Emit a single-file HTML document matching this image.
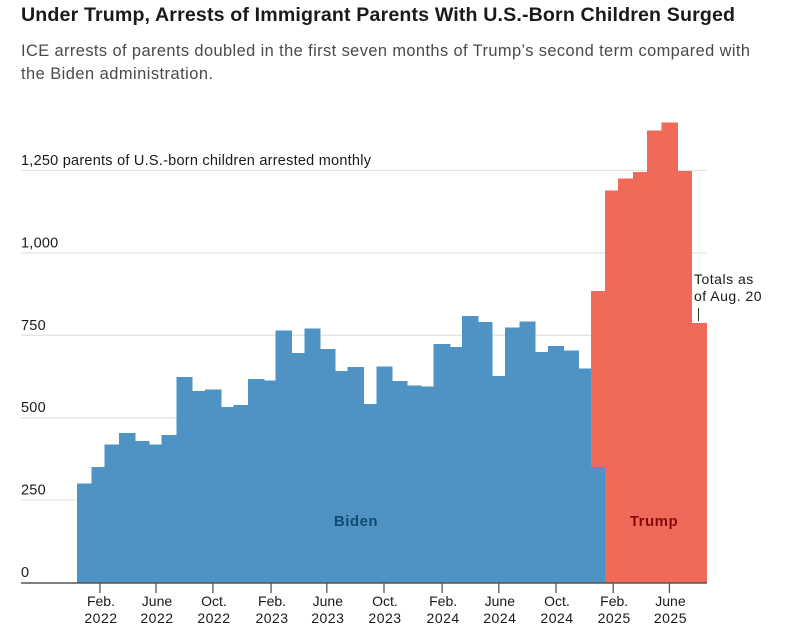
<!DOCTYPE html>
<html lang="en">
<head>
<meta charset="utf-8">
<title>Under Trump, Arrests of Immigrant Parents With U.S.-Born Children Surged</title>
<style>
html,body{margin:0;padding:0;background:#fff;width:795px;height:643px;overflow:hidden}
svg{display:block;font-family:"Liberation Sans",sans-serif}
</style>
</head>
<body>
<svg id="chart" width="795" height="643" viewBox="0 0 795 643" xmlns="http://www.w3.org/2000/svg">
  <rect width="795" height="643" fill="#fff"/>
  <text x="21" y="21" font-size="19.6" font-weight="700" fill="#1a1a1a" textLength="714" lengthAdjust="spacing">Under Trump, Arrests of Immigrant Parents With U.S.-Born Children Surged</text>
  <text x="21" y="56" font-size="16.4" fill="#4a4a4a" textLength="729" lengthAdjust="spacing">ICE arrests of parents doubled in the first seven months of Trump’s second term compared with</text>
  <text x="21" y="79" font-size="16.4" fill="#4a4a4a" textLength="192" lengthAdjust="spacing">the Biden administration.</text>
  <g id="grid"></g>
  <g id="ylabels"></g>
  <g id="bars" shape-rendering="crispEdges"></g>
  <g id="xaxis"></g>
  <text x="356" y="526" font-size="15" font-weight="700" letter-spacing="0.5" fill="#0f4a72" text-anchor="middle">Biden</text>
  <text x="654" y="526" font-size="15" font-weight="700" letter-spacing="0.5" fill="#850b0b" text-anchor="middle">Trump</text>
  <text x="694" y="284" font-size="14" letter-spacing="0.5" fill="#1a1a1a">Totals as</text>
  <text x="694" y="301" font-size="14" letter-spacing="0.5" fill="#1a1a1a">of Aug. 20</text>
  <line x1="698.5" y1="308" x2="698.5" y2="321" stroke="#333" stroke-width="1"/>
</svg>
<script>
// Estimated length of each reporting period, in days, January 2022 onward
const periodDays = [30.5,28.6,30.5,35.6,29.9,25.6,31.2,35,26.2,34.8,26.5,30.5,35.6,23.5,34.8,26.2,35,31.2,25.6,35.6,26.2,34.1,32,29.9,26.5,35.4,25,34.8,29.9,26.5,31.2,34.1,26.5,34.8,31.4,25.6,30.5,27.7,31.4,30.5,30.7,34.8,30.5,31.4];
// Parents arrested per period under Biden (final value is January 2025 before the inauguration)
const bidenValues = [300,350,419,453,430,419,448,623,581,586,532,539,617,613,764,697,770,708,641,654,541,656,611,597,595,723,715,809,790,626,774,792,700,718,704,649,350];
// Parents arrested per period under Trump (first value is the rest of January 2025, stacked on Biden)
const trumpValues = [534,1189,1226,1246,1372,1396,1248,787];
const yTicks = [0,250,500,750,1000,1250];
const yTickLabels = ["0","250","500","750","1,000","1,250 parents of U.S.-born children arrested monthly"];
const xTickDays = [49,168.5,290,414,533,655,779,900,1022,1144,1264];
const xTickMonths = ["Feb.","June","Oct.","Feb.","June","Oct.","Feb.","June","Oct.","Feb.","June"];
const xTickYears = ["2022","2022","2022","2023","2023","2023","2024","2024","2024","2025","2025"];

const NS = "http://www.w3.org/2000/svg";
function yScale(v){ return 582.5 - v * 0.3296; }
function xScale(d){ return 77 + d * 0.4687; }
function make(tag, attrs, parent){
  const el = document.createElementNS(NS, tag);
  for (const k in attrs) el.setAttribute(k, attrs[k]);
  parent.appendChild(el);
  return el;
}
const gridG = document.getElementById("grid");
const ylabG = document.getElementById("ylabels");
const barsG = document.getElementById("bars");
const xG = document.getElementById("xaxis");

yTicks.forEach(function(v, i){
  if (v > 0) {
    const gl = make("line", {x1:21, x2:707, y1:yScale(v), y2:yScale(v), stroke:"#e4e4e4", "stroke-width":1.3}, gridG);
    
    
  }
  const t = make("text", {x:21, y:yScale(v)-5.5, "font-size":14.5, "letter-spacing":0.24, fill:"#1a1a1a"}, ylabG);
  t.textContent = yTickLabels[i];
  
  
});

const edges = [0];
periodDays.forEach(function(d){ edges.push(edges[edges.length-1] + d); });

bidenValues.forEach(function(v, i){
  const x0 = xScale(edges[i]), x1 = xScale(edges[i+1]);
  const r = make("rect", {x:x0, width:x1-x0, y:yScale(v), height:yScale(0)-yScale(v), fill:"#4e93c4"}, barsG);
  
  
});
const trumpStart = bidenValues.length - 1;
trumpValues.forEach(function(v, i){
  const idx = trumpStart + i;
  const base = i === 0 ? bidenValues[trumpStart] : 0;
  const x0 = xScale(edges[idx]), x1 = xScale(edges[idx+1]);
  const r = make("rect", {x:x0, width:x1-x0, y:yScale(base+v), height:yScale(base)-yScale(base+v), fill:"#f06a5a"}, barsG);
  
  
});

const axisLine = make("line", {x1:21, x2:707, y1:583, y2:583, stroke:"#555", "stroke-width":1.5}, xG);


xTickDays.forEach(function(d, i){
  const x = xScale(d);
  const tk = make("line", {x1:x, x2:x, y1:583, y2:593, stroke:"#555", "stroke-width":1.3}, xG);
  
  
  const m = make("text", {x:x+1, y:606, "font-size":14, fill:"#1a1a1a", "text-anchor":"middle"}, xG);
  m.textContent = xTickMonths[i];
  
  
  const yr = make("text", {x:x+1, y:623, "font-size":14, "letter-spacing":0.5, fill:"#1a1a1a", "text-anchor":"middle"}, xG);
  yr.textContent = xTickYears[i];
  
  
});
</script>
</body>
</html>
